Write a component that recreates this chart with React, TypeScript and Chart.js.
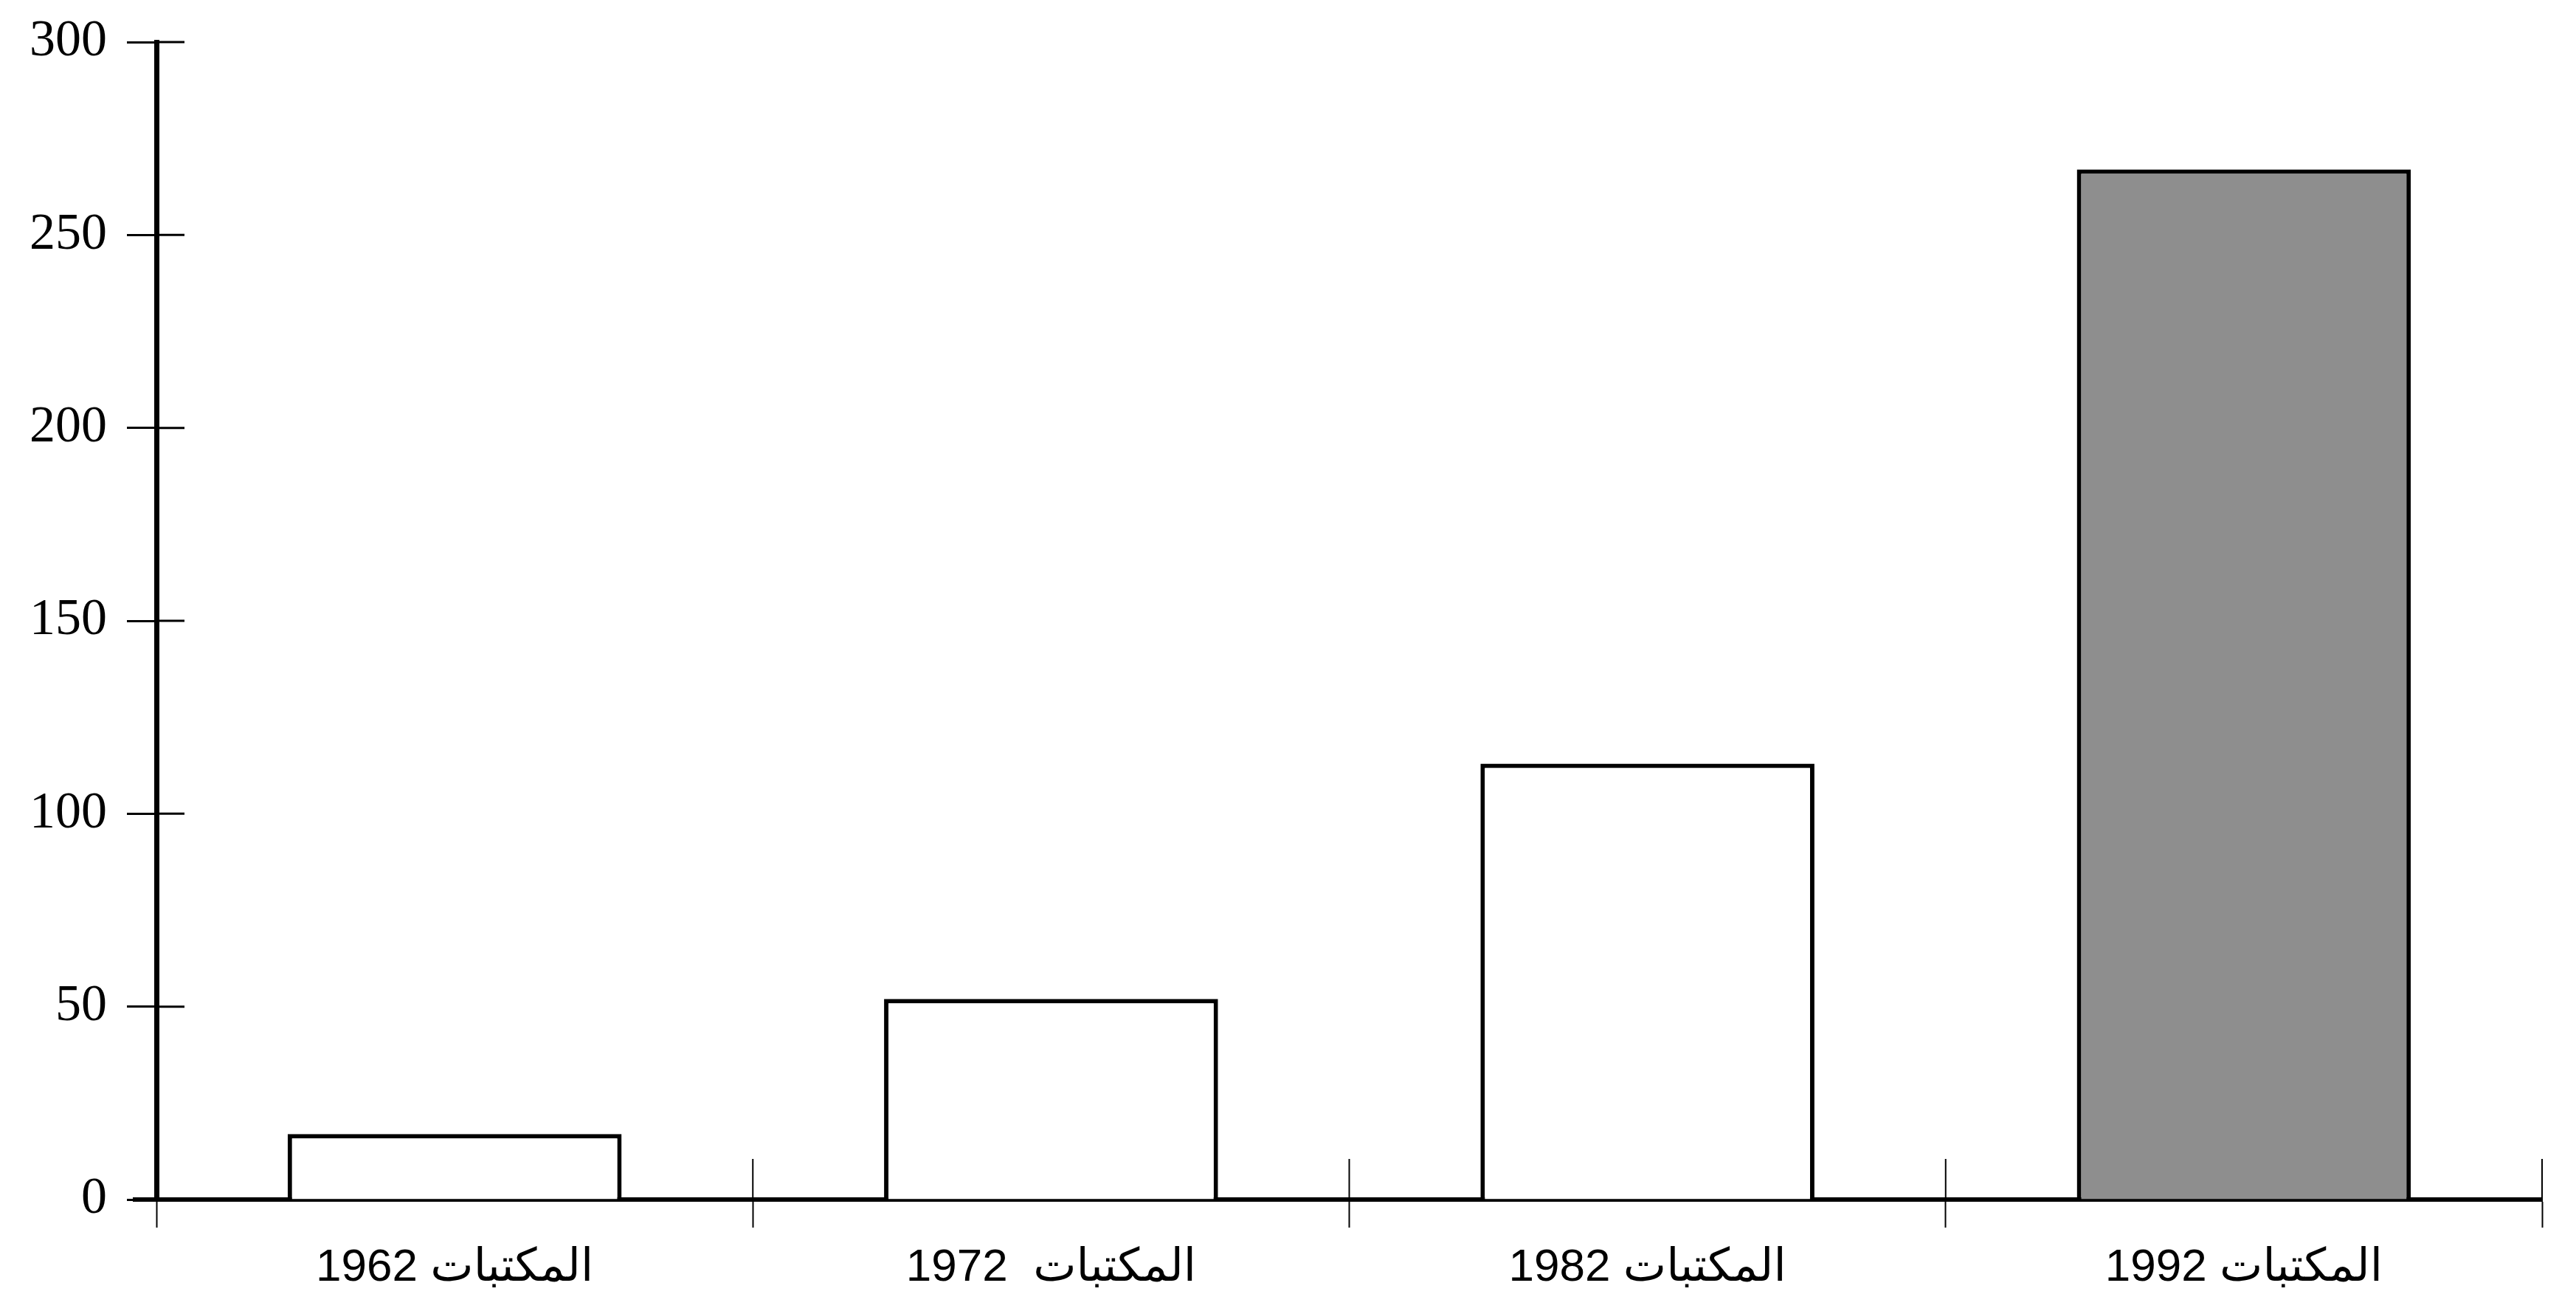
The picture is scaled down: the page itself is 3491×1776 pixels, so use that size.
import React, { useEffect, useRef } from "react";
import { Chart, registerables } from "chart.js";

Chart.register(...registerables);

const categories: string[] = ["المكتبات 1962", "المكتبات  1972", "المكتبات 1982", "المكتبات 1992"];
const libraryCounts: number[] = [17, 52, 113, 267];
const barFills: string[] = ["#ffffff", "#ffffff", "#ffffff", "#8e8e8e"];
const yMin = 0;
const yMax = 300;
const yStep = 50;

const W = 3491;
const H = 1776;

const innerTicks = {
  id: "innerTicks",
  afterDraw(chart: any) {
    const { ctx, chartArea } = chart;
    const x = chart.scales.x;
    const y = chart.scales.y;
    ctx.save();
    ctx.strokeStyle = "#000";
    ctx.lineWidth = 3;
    y.ticks.forEach((t: any) => {
      const py = y.getPixelForValue(t.value);
      ctx.beginPath();
      ctx.moveTo(chartArea.left, py);
      ctx.lineTo(chartArea.left + 38, py);
      ctx.stroke();
    });
    ctx.lineWidth = 2;
    for (let i = 0; i <= categories.length; i++) {
      const px = x.getPixelForValue(i - 0.5);
      ctx.beginPath();
      ctx.moveTo(px, chartArea.bottom);
      ctx.lineTo(px, chartArea.bottom - 55);
      ctx.stroke();
    }
    ctx.lineWidth = 6;
    ctx.beginPath();
    ctx.moveTo(chartArea.left - 32, chartArea.bottom);
    ctx.lineTo(chartArea.left, chartArea.bottom);
    ctx.stroke();
    ctx.restore();
  },
};

export default function App() {
  const ref = useRef<HTMLCanvasElement>(null);
  useEffect(() => {
    if (!ref.current) return;
    const chart = new Chart(ref.current, {
      type: "bar",
      data: {
        labels: categories,
        datasets: [
          {
            data: libraryCounts,
            backgroundColor: barFills,
            borderColor: "#000",
            borderWidth: 6,
            borderSkipped: "bottom",
            barPercentage: 0.56,
            categoryPercentage: 1.0,
          },
        ],
      },
      options: {
        responsive: false,
        animation: false,
        devicePixelRatio: 1,
        layout: { padding: { left: 0, right: 46, top: 57, bottom: 0 } },
        plugins: { legend: { display: false }, tooltip: { enabled: false } },
        scales: {
          x: {
            z: 1,
            offset: true,
            grid: {
              offset: true,
              drawOnChartArea: false,
              drawTicks: true,
              tickLength: 38,
              tickColor: "#000",
              tickWidth: 2,
            },
            border: { display: true, color: "#000", width: 6 },
            ticks: {
              color: "#000",
              padding: 18,
              font: { family: "'Liberation Sans', 'DejaVu Sans', sans-serif", size: 62 },
              maxRotation: 0,
              autoSkip: false,
            },
            afterFit(scale: any) {
              scale.height = 151;
              scale.paddingLeft = 0;
              scale.paddingRight = 0;
            },
          },
          y: {
            z: 1,
            min: yMin,
            max: yMax,
            grid: {
              drawOnChartArea: false,
              drawTicks: true,
              tickLength: 40,
              tickColor: "#000",
              tickWidth: 3,
            },
            border: { display: true, color: "#000", width: 7 },
            ticks: {
              stepSize: yStep,
              color: "#000",
              padding: 27,
              font: { family: "'Liberation Serif', serif", size: 70 },
            },
            afterFit(scale: any) {
              scale.width = 212;
              scale.paddingTop = 0;
              scale.paddingBottom = 0;
            },
          },
        },
      },
      plugins: [innerTicks],
    });
    return () => chart.destroy();
  }, []);
  return (
    <div style={{ position: "fixed", left: 0, top: 0, width: W, height: H, background: "#fff" }}>
      <canvas ref={ref} width={W} height={H} style={{ width: W, height: H, display: "block" }} />
    </div>
  );
}
